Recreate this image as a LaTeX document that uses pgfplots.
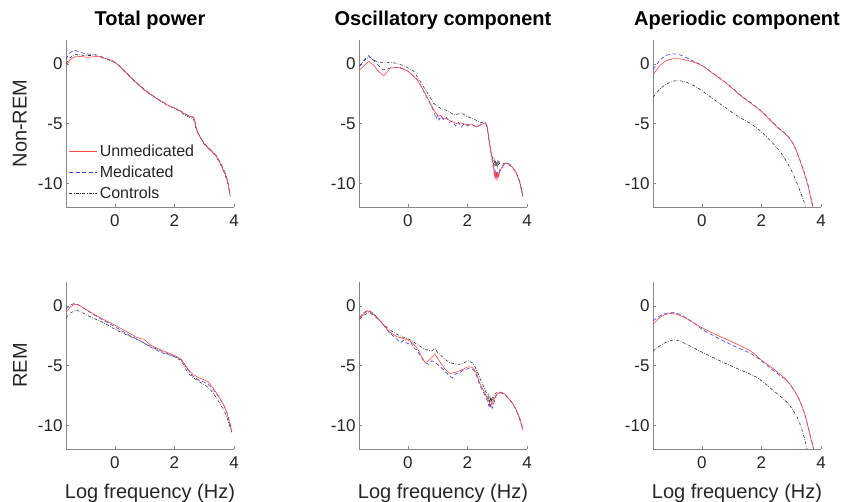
\documentclass[border=0pt]{standalone}
\usepackage{fontspec}
\setmainfont{Liberation Sans}
\usepackage{pgfplots}
\pgfplotsset{compat=1.18}

\definecolor{axgray}{RGB}{135,135,135}
\definecolor{redU}{RGB}{255,70,70}
\definecolor{blueM}{RGB}{60,60,255}
\definecolor{grayC}{RGB}{50,50,50}

\tikzset{
  lgU/.style={draw=redU, line width=0.6pt},
  lgM/.style={draw=blueM, line width=0.6pt, dash pattern=on 4pt off 2.5pt},
  lgC/.style={draw=grayC, line width=0.6pt, dash pattern=on 3pt off 1.5pt on 0.6pt off 1.5pt},
  lgtext/.style={anchor=west, inner sep=0pt, font=\fontsize{16}{16}\selectfont, text=black!85},
}

\pgfplotsset{
  panel/.style={
    scale only axis, width=168pt, height=167pt,
    xmin=-1.64, xmax=4, ymin=-12, ymax=2,
    xtick={0,2,4}, ytick={-10,-5,0},
    axis x line*=bottom, axis y line*=left,
    axis line style={axgray, line width=0.7pt},
    tick style={axgray, line width=0.6pt},
    tick align=inside, major tick length=3pt,
    ticklabel style={font=\fontsize{17}{17}\selectfont, text=black!85},
    xticklabel style={yshift=-4pt},
    /pgf/number format/assume math mode=true,
    title style={font=\fontsize{20}{20}\selectfont\bfseries,
      at={([yshift=9pt]axis description cs:0.5,1)}, anchor=base, inner sep=0pt},
    xlabel style={font=\fontsize{20}{20}\selectfont, text=black!85,
      at={([yshift=-49pt]axis description cs:0.5,0)}, anchor=base, inner sep=0pt},
    ylabel style={font=\fontsize{20}{20}\selectfont, text=black!85,
      at={([xshift=-39pt]axis description cs:0,0.5)}, anchor=south, inner sep=0pt},
  },
  sUnmed/.style={color=redU, line width=0.6pt, no marks, solid},
  sMed/.style={color=blueM, line width=0.6pt, no marks, dash pattern=on 4pt off 2.5pt},
  sCtrl/.style={color=grayC, line width=0.6pt, no marks, dash pattern=on 3pt off 1.5pt on 0.6pt off 1.5pt},
}

\begin{document}
\begin{tikzpicture}
\useasboundingbox (0,0) rectangle (842pt,-501pt);

% ---------- Non-REM, total power ----------
\begin{axis}[panel, at={(66pt,-40pt)}, anchor=north west,
    title={Total power}, ylabel={Non-REM}]
\addplot[sCtrl] coordinates {
(-1.64,0.0)(-1.5,0.5)(-1.35,0.8)(-1.2,0.75)(-1.0,0.7)(-0.8,0.7)(-0.6,0.65)(-0.4,0.5)(-0.2,0.32)(0,0.12)(0.2,-0.32)(0.4,-0.82)(0.6,-1.32)(0.8,-1.78)(1.0,-2.22)(1.2,-2.58)(1.4,-2.92)(1.6,-3.22)(1.8,-3.52)(2.0,-3.72)(2.2,-4.0)(2.4,-4.4)(2.55,-4.5)(2.65,-4.7)(2.72,-5.4)(2.8,-5.85)(2.9,-6.3)(3.0,-6.75)(3.2,-7.25)(3.4,-7.75)(3.55,-8.45)(3.7,-9.3)(3.8,-10.1)(3.87,-11.1)};
\addplot[sMed] coordinates {
(-1.64,0.4)(-1.5,0.95)(-1.35,1.15)(-1.2,1.0)(-1.0,0.85)(-0.8,0.8)(-0.6,0.75)(-0.4,0.55)(-0.2,0.35)(0,0.15)(0.2,-0.28)(0.4,-0.78)(0.6,-1.28)(0.8,-1.72)(1.0,-2.15)(1.2,-2.52)(1.4,-2.88)(1.6,-3.18)(1.8,-3.48)(2.0,-3.7)(2.2,-3.95)(2.4,-4.25)(2.5,-4.35)(2.6,-4.4)(2.67,-4.55)(2.72,-5.2)(2.78,-5.75)(2.9,-6.25)(3.0,-6.65)(3.2,-7.15)(3.4,-7.65)(3.55,-8.3)(3.7,-9.1)(3.8,-9.9)(3.87,-10.9)};
\addplot[sUnmed] coordinates {
(-1.64,-0.14)(-1.5,0.35)(-1.3,0.65)(-1.1,0.6)(-0.9,0.55)(-0.7,0.6)(-0.5,0.6)(-0.3,0.45)(-0.1,0.3)(0,0.15)(0.2,-0.3)(0.4,-0.8)(0.6,-1.3)(0.8,-1.75)(1.0,-2.2)(1.2,-2.55)(1.4,-2.9)(1.6,-3.2)(1.8,-3.5)(2.0,-3.7)(2.2,-3.95)(2.4,-4.3)(2.5,-4.4)(2.6,-4.45)(2.67,-4.6)(2.72,-5.3)(2.78,-5.8)(2.9,-6.3)(3.0,-6.7)(3.2,-7.2)(3.4,-7.7)(3.55,-8.4)(3.7,-9.2)(3.8,-10.0)(3.87,-11.0)};
% legend, drawn by hand, no box
\draw[lgU] (axis description cs:0.018,0.335) -- (axis description cs:0.185,0.335);
\draw[lgM] (axis description cs:0.018,0.210) -- (axis description cs:0.185,0.210);
\draw[lgC] (axis description cs:0.018,0.084) -- (axis description cs:0.185,0.084);
\node[lgtext] at (axis description cs:0.200,0.335) {Unmedicated};
\node[lgtext] at (axis description cs:0.200,0.210) {Medicated};
\node[lgtext] at (axis description cs:0.200,0.084) {Controls};
\end{axis}

% ---------- Non-REM, oscillatory ----------
\begin{axis}[panel, at={(359pt,-40pt)}, anchor=north west, title={Oscillatory component}]
\addplot[sCtrl] coordinates {
(-1.62,-0.2)(-1.45,0.3)(-1.3,0.6)(-1.15,0.3)(-0.92,0.1)(-0.75,0.1)(-0.6,0.15)(-0.4,0.05)(-0.14,-0.15)(0.19,-0.6)(0.35,-1.2)(0.52,-1.9)(0.7,-2.6)(0.86,-3.3)(1.08,-3.7)(1.3,-3.9)(1.5,-4.2)(1.63,-4.25)(1.8,-4.1)(1.97,-4.4)(2.2,-4.6)(2.41,-4.9)(2.61,-4.95)(2.67,-5.4)(2.72,-6.4)(2.8,-7.5)(2.86,-8.0)(2.88,-8.5)(2.9,-8.1)(2.92,-8.6)(2.94,-8.1)(2.96,-8.6)(2.98,-8.2)(3.0,-8.6)(3.02,-8.2)(3.04,-8.5)(3.06,-8.2)(3.08,-8.4)(3.15,-8.4)(3.3,-8.3)(3.52,-8.7)(3.63,-9.1)(3.75,-9.8)(3.86,-11.1)};
\addplot[sMed] coordinates {
(-1.62,-0.2)(-1.45,0.4)(-1.31,0.7)(-1.15,0.3)(-1.0,-0.1)(-0.85,-0.5)(-0.7,-0.45)(-0.55,-0.3)(-0.4,-0.3)(-0.26,-0.35)(0,-0.6)(0.3,-1.25)(0.45,-1.9)(0.63,-2.8)(0.8,-3.6)(0.9,-4.2)(0.95,-4.6)(1.0,-4.3)(1.05,-4.7)(1.12,-4.4)(1.2,-4.7)(1.3,-4.5)(1.4,-4.9)(1.5,-4.8)(1.6,-5.2)(1.7,-4.9)(1.8,-5.3)(1.9,-5.0)(2.0,-5.2)(2.15,-5.1)(2.3,-5.3)(2.47,-5.05)(2.61,-4.95)(2.66,-5.2)(2.72,-6.2)(2.8,-7.6)(2.86,-8.6)(2.9,-9.3)(2.92,-8.9)(2.95,-9.4)(2.97,-9.0)(3.0,-9.5)(3.02,-9.0)(3.05,-9.4)(3.08,-8.9)(3.15,-8.8)(3.21,-8.5)(3.3,-8.35)(3.41,-8.4)(3.52,-8.7)(3.63,-9.1)(3.75,-9.8)(3.86,-11.0)};
\addplot[sUnmed] coordinates {
(-1.62,-0.5)(-1.45,-0.1)(-1.31,0.2)(-1.15,-0.1)(-1.0,-0.6)(-0.81,-1.0)(-0.7,-0.7)(-0.59,-0.35)(-0.4,-0.3)(-0.26,-0.3)(0,-0.6)(0.3,-1.3)(0.45,-1.9)(0.63,-2.7)(0.86,-3.8)(1.02,-4.4)(1.1,-4.3)(1.2,-4.6)(1.3,-4.6)(1.45,-4.8)(1.63,-5.0)(1.8,-4.95)(1.97,-5.1)(2.15,-5.05)(2.3,-5.3)(2.47,-5.1)(2.61,-4.95)(2.66,-5.2)(2.72,-6.3)(2.8,-7.6)(2.86,-8.3)(2.9,-9.1)(2.92,-9.5)(2.94,-9.1)(2.96,-9.6)(2.98,-9.2)(3.0,-9.6)(3.02,-9.2)(3.05,-9.4)(3.08,-9.1)(3.15,-8.7)(3.21,-8.4)(3.3,-8.35)(3.41,-8.4)(3.52,-8.7)(3.63,-9.1)(3.75,-9.9)(3.86,-11.1)};
\end{axis}

% ---------- Non-REM, aperiodic ----------
\begin{axis}[panel, at={(653pt,-40pt)}, anchor=north west, title={Aperiodic component}]
\addplot[sCtrl, smooth] coordinates {
(-1.64,-2.8)(-1.4,-2.1)(-1.18,-1.69)(-0.85,-1.4)(-0.51,-1.55)(-0.25,-1.85)(0,-2.25)(0.62,-3.37)(1.18,-4.35)(1.75,-5.2)(2.2,-6.18)(2.65,-7.44)(2.99,-8.85)(3.21,-10.1)(3.35,-11.0)(3.49,-12)};
\addplot[sMed, smooth] coordinates {
(-1.64,-0.48)(-1.41,0.3)(-1.2,0.7)(-0.96,0.84)(-0.73,0.75)(-0.5,0.5)(-0.28,0.22)(0,-0.12)(0.39,-0.82)(0.85,-1.65)(1.3,-2.62)(1.75,-3.45)(1.97,-3.9)(2.2,-4.45)(2.54,-5.3)(2.87,-6.0)(3.1,-6.85)(3.32,-8.25)(3.55,-10.0)(3.73,-12)};
\addplot[sUnmed, smooth] coordinates {
(-1.64,-0.93)(-1.41,-0.14)(-1.2,0.25)(-0.96,0.42)(-0.73,0.42)(-0.5,0.3)(-0.28,0.14)(0,-0.14)(0.39,-0.84)(0.85,-1.69)(1.3,-2.67)(1.75,-3.5)(1.97,-3.93)(2.2,-4.5)(2.54,-5.34)(2.87,-6.04)(3.1,-6.88)(3.32,-8.29)(3.55,-10.1)(3.72,-12)};
\end{axis}

% ---------- REM, total power ----------
\begin{axis}[panel, at={(66pt,-282pt)}, anchor=north west,
    ylabel={REM}, xlabel={Log frequency (Hz)}]
\addplot[sCtrl] coordinates {
(-1.64,-1.0)(-1.5,-0.6)(-1.3,-0.36)(-1.1,-0.55)(-0.8,-0.95)(-0.5,-1.26)(-0.25,-1.6)(0,-1.96)(0.41,-2.45)(0.86,-2.95)(1.2,-3.4)(1.55,-3.78)(2.0,-4.26)(2.23,-4.6)(2.45,-5.6)(2.6,-5.95)(2.8,-6.3)(3.0,-6.6)(3.14,-6.86)(3.3,-7.3)(3.48,-8.0)(3.65,-8.7)(3.76,-9.3)(3.87,-10.2)(3.93,-10.6)};
\addplot[sMed] coordinates {
(-1.64,-0.28)(-1.5,0.05)(-1.35,0.22)(-1.2,0.05)(-1.07,-0.15)(-0.8,-0.6)(-0.5,-1.05)(-0.25,-1.4)(0,-1.75)(0.41,-2.35)(0.86,-2.95)(1.2,-3.45)(1.55,-3.9)(2.0,-4.25)(2.23,-4.5)(2.45,-5.35)(2.6,-5.85)(2.8,-6.2)(3.0,-6.4)(3.14,-6.6)(3.3,-7.0)(3.48,-7.6)(3.65,-8.3)(3.76,-8.9)(3.87,-9.9)(3.93,-10.45)};
\addplot[sUnmed] coordinates {
(-1.64,-0.56)(-1.5,-0.1)(-1.35,0.14)(-1.2,0.05)(-1.07,-0.14)(-0.8,-0.55)(-0.5,-0.98)(-0.25,-1.3)(0,-1.62)(0.41,-2.18)(0.7,-2.6)(0.86,-2.75)(0.98,-2.8)(1.2,-3.3)(1.55,-3.7)(2.0,-4.15)(2.23,-4.48)(2.45,-5.3)(2.6,-5.7)(2.8,-6.0)(3.0,-6.2)(3.14,-6.4)(3.3,-6.9)(3.48,-7.56)(3.65,-8.3)(3.76,-8.96)(3.87,-10.0)(3.93,-10.5)};
\end{axis}

% ---------- REM, oscillatory ----------
\begin{axis}[panel, at={(359pt,-282pt)}, anchor=north west, xlabel={Log frequency (Hz)}]
\addplot[sCtrl] coordinates {
(-1.62,-1.12)(-1.5,-0.8)(-1.3,-0.56)(-1.1,-0.9)(-0.9,-1.35)(-0.7,-1.82)(-0.55,-2.1)(-0.37,-2.38)(-0.2,-2.6)(0,-2.75)(0.15,-2.95)(0.3,-3.22)(0.45,-3.45)(0.58,-3.64)(0.7,-3.75)(0.8,-3.78)(0.91,-3.58)(1.0,-3.9)(1.13,-4.2)(1.25,-4.5)(1.41,-4.76)(1.55,-4.85)(1.74,-4.9)(1.9,-4.75)(2.02,-4.62)(2.15,-4.75)(2.24,-5.04)(2.33,-5.5)(2.41,-6.02)(2.5,-6.5)(2.58,-7.0)(2.66,-7.4)(2.7,-7.9)(2.72,-7.5)(2.74,-8.0)(2.76,-7.6)(2.78,-8.1)(2.8,-7.7)(2.82,-8.0)(2.84,-7.6)(2.86,-7.8)(2.92,-7.4)(2.97,-7.28)(3.05,-7.25)(3.13,-7.23)(3.25,-7.4)(3.41,-7.84)(3.52,-8.2)(3.63,-8.68)(3.75,-9.4)(3.86,-10.4)};
\addplot[sMed] coordinates {
(-1.62,-1.0)(-1.5,-0.6)(-1.34,-0.35)(-1.2,-0.55)(-1.03,-0.95)(-0.85,-1.5)(-0.7,-2.0)(-0.55,-2.4)(-0.37,-2.8)(-0.25,-3.1)(-0.15,-2.9)(0,-3.2)(0.1,-3.0)(0.19,-3.5)(0.3,-3.7)(0.45,-4.3)(0.58,-4.76)(0.7,-4.9)(0.8,-4.6)(0.91,-4.76)(1.0,-4.9)(1.13,-5.2)(1.25,-5.5)(1.33,-5.7)(1.41,-5.9)(1.5,-6.05)(1.6,-5.7)(1.74,-5.6)(1.85,-5.4)(2.02,-5.26)(2.15,-5.3)(2.24,-5.45)(2.33,-6.0)(2.41,-6.6)(2.5,-7.1)(2.58,-7.45)(2.66,-7.9)(2.72,-8.4)(2.74,-8.1)(2.77,-8.6)(2.8,-8.2)(2.83,-8.6)(2.86,-8.35)(2.92,-7.9)(2.97,-7.5)(3.05,-7.35)(3.13,-7.3)(3.25,-7.45)(3.41,-7.85)(3.52,-8.2)(3.63,-8.7)(3.75,-9.4)(3.86,-10.4)};
\addplot[sUnmed] coordinates {
(-1.62,-1.12)(-1.5,-0.7)(-1.34,-0.42)(-1.2,-0.6)(-1.03,-0.98)(-0.85,-1.5)(-0.7,-1.96)(-0.55,-2.3)(-0.37,-2.58)(-0.2,-2.7)(0,-2.86)(0.15,-3.1)(0.3,-3.5)(0.45,-4.2)(0.58,-4.76)(0.66,-4.65)(0.74,-4.48)(0.91,-4.06)(1.0,-4.4)(1.13,-4.9)(1.25,-5.3)(1.41,-5.66)(1.55,-5.6)(1.74,-5.46)(1.9,-5.25)(2.02,-5.1)(2.15,-5.15)(2.24,-5.32)(2.33,-5.8)(2.41,-6.44)(2.5,-6.9)(2.58,-7.28)(2.66,-7.7)(2.74,-8.12)(2.77,-8.4)(2.8,-8.2)(2.83,-8.3)(2.86,-8.0)(2.92,-7.7)(2.97,-7.42)(3.05,-7.3)(3.13,-7.23)(3.25,-7.4)(3.41,-7.84)(3.52,-8.2)(3.63,-8.68)(3.75,-9.4)(3.86,-10.36)};
\end{axis}

% ---------- REM, aperiodic ----------
\begin{axis}[panel, at={(653pt,-282pt)}, anchor=north west, xlabel={Log frequency (Hz)}]
\addplot[sCtrl, smooth] coordinates {
(-1.64,-3.78)(-1.3,-3.17)(-0.96,-2.86)(-0.75,-2.95)(-0.51,-3.22)(0,-3.87)(0.62,-4.62)(1.3,-5.38)(1.86,-6.02)(2.42,-7.14)(2.87,-8.12)(3.21,-9.38)(3.44,-11.06)(3.53,-12)};
\addplot[sMed, smooth] coordinates {
(-1.64,-1.26)(-1.41,-0.85)(-1.2,-0.62)(-0.96,-0.56)(-0.75,-0.7)(-0.5,-1.05)(-0.25,-1.45)(0,-1.95)(0.51,-2.66)(1.07,-3.36)(1.63,-3.98)(1.97,-4.55)(2.42,-5.46)(2.87,-6.32)(3.21,-7.56)(3.44,-8.96)(3.61,-10.6)(3.75,-12)};
\addplot[sUnmed, smooth] coordinates {
(-1.64,-1.54)(-1.41,-0.98)(-1.25,-0.75)(-1.07,-0.64)(-0.85,-0.7)(-0.6,-0.95)(-0.39,-1.26)(0,-1.82)(0.51,-2.46)(1.07,-3.08)(1.63,-3.78)(1.97,-4.48)(2.42,-5.32)(2.87,-6.3)(3.21,-7.56)(3.44,-8.96)(3.61,-10.6)(3.75,-12)};
\end{axis}
\end{tikzpicture}
\end{document}
